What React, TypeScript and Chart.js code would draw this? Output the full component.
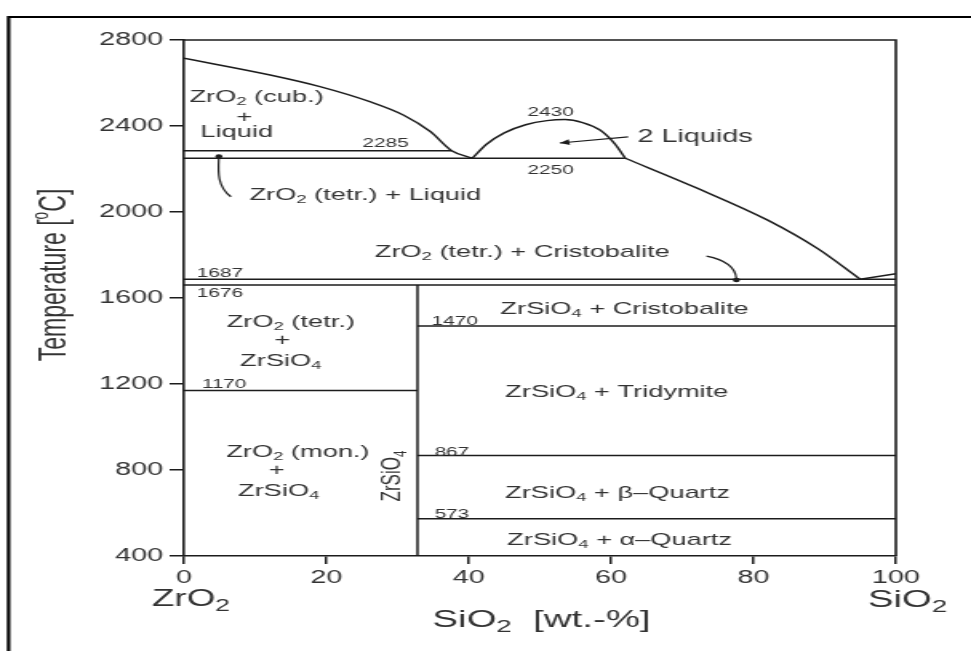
import React, { useEffect, useRef } from 'react';
import { Chart, registerables } from 'chart.js';

Chart.register(...registerables);

// ---------- data ----------
const xTicks = [0, 20, 40, 60, 80, 100];
const tempTicks = [400, 800, 1200, 1600, 2000, 2400, 2800];

// liquidus on the ZrO2 side (wt.-% SiO2, °C)
const liqZrO2X = [0, 12.1, 19.1, 26.1, 30.8, 34.6, 37.6, 40.5];
const liqZrO2T = [2715, 2637, 2583, 2513, 2451, 2374, 2285, 2250];

// miscibility gap (2 liquids)
const gapX = [40.5, 42.5, 45, 48, 51, 53.5, 56, 58.5, 60.5, 62];
const gapT = [2250, 2315, 2368, 2406, 2425, 2430, 2416, 2380, 2318, 2250];

// liquidus towards SiO2
const liqRightX = [62, 72, 82, 89, 95];
const liqRightT = [2250, 2112, 1962, 1830, 1687];

// liquidus of SiO2 above eutectic
const liqSiO2X = [95, 100];
const liqSiO2T = [1687, 1713];

// isotherms
const isoT = [2285, 2250, 1687, 1660, 1470, 1170, 867, 573];
const isoFrom = [0, 0, 0, 0, 32.8, 0, 32.8, 32.8];
const isoTo = [37.6, 62, 100, 100, 100, 32.8, 100, 100];

// ZrSiO4 compound line
const zirconX = 32.8;
const zirconT = [400, 1660];

// ---------- styling / layout ----------
const STRETCH = 1.6;
const W = 971;
const H = 651;
const IW = Math.round(W / STRETCH);
const FONT = '"Liberation Sans", Arial, Helvetica, sans-serif';
const INK = '#1c1c1c';
const TXT = '#333333';

type Seg = { t: string; mode: number };
function parseRich(s: string): Seg[] {
  const out: Seg[] = [];
  let buf = '';
  for (let i = 0; i < s.length; i++) {
    const c = s[i];
    if ((c === '_' || c === '^') && i + 1 < s.length) {
      if (buf) out.push({ t: buf, mode: 0 });
      buf = '';
      out.push({ t: s[i + 1], mode: c === '_' ? 1 : 2 });
      i++;
    } else buf += c;
  }
  if (buf) out.push({ t: buf, mode: 0 });
  return out;
}

function drawRich(ctx: CanvasRenderingContext2D, s: string, x: number, y: number, size: number, align = 'center', subScale = 0.68) {
  const segs = parseRich(s);
  const small = size * subScale;
  const fontOf = (m: number) => `${m ? small : size}px ${FONT}`;
  let total = 0;
  const widths = segs.map((g) => {
    ctx.font = fontOf(g.mode);
    const w = ctx.measureText(g.t).width;
    total += w;
    return w;
  });
  let cx = align === 'left' ? x : align === 'right' ? x - total : x - total / 2;
  ctx.textBaseline = 'middle';
  ctx.textAlign = 'left';
  segs.forEach((g, i) => {
    ctx.font = fontOf(g.mode);
    const dy = g.mode === 1 ? size * 0.3 : g.mode === 2 ? -size * 0.35 : 0;
    ctx.fillText(g.t, cx, y + dy);
    cx += widths[i];
  });
}

const fieldLabels = [
  { text: 'ZrO_2 (cub.)', x: 10.2, t: 2535, size: 17, align: 'center' },
  { text: '+', x: 8.5, t: 2442, size: 17, align: 'center' },
  { text: 'Liquid', x: 7.4, t: 2372, size: 17, align: 'center' },
  { text: '2285', x: 28.3, t: 2321, size: 13, align: 'center' },
  { text: 'ZrO_2 (tetr.) + Liquid', x: 9.2, t: 2079, size: 17, align: 'left' },
  { text: '2430', x: 51.5, t: 2465, size: 13, align: 'center' },
  { text: '2 Liquids', x: 71.8, t: 2349, size: 18, align: 'center' },
  { text: '2250', x: 51.5, t: 2195, size: 13, align: 'center' },
  { text: 'ZrO_2 (tetr.) + Cristobalite', x: 26.8, t: 1814, size: 17, align: 'left' },
  { text: '1687', x: 1.8, t: 1716, size: 13, align: 'left' },
  { text: '1676', x: 1.8, t: 1619, size: 13, align: 'left' },
  { text: 'ZrO_2 (tetr.)', x: 15.0, t: 1488, size: 17, align: 'center' },
  { text: '+', x: 13.8, t: 1405, size: 17, align: 'center' },
  { text: 'ZrSiO_4', x: 13.6, t: 1307, size: 17, align: 'center' },
  { text: '1170', x: 2.5, t: 1200, size: 13, align: 'left' },
  { text: '1470', x: 34.8, t: 1493, size: 13, align: 'left' },
  { text: 'ZrSiO_4 + Cristobalite', x: 61.9, t: 1549, size: 17, align: 'center' },
  { text: 'ZrSiO_4 + Tridymite', x: 60.8, t: 1163, size: 17, align: 'center' },
  { text: 'ZrO_2 (mon.)', x: 16.0, t: 884, size: 17, align: 'center' },
  { text: '+', x: 13.0, t: 800, size: 17, align: 'center' },
  { text: 'ZrSiO_4', x: 13.3, t: 702, size: 17, align: 'center' },
  { text: '867', x: 35.2, t: 884, size: 13, align: 'left' },
  { text: 'ZrSiO_4 + β–Quartz', x: 60.9, t: 693, size: 17, align: 'center' },
  { text: '573', x: 35.2, t: 595, size: 13, align: 'left' },
  { text: 'ZrSiO_4 + α–Quartz', x: 61.2, t: 475, size: 17, align: 'center' },
];

const annotPlugin = {
  id: 'phaseAnnot',
  afterDraw(chart: any) {
    const { ctx, chartArea: a, scales } = chart;
    const px = (v: number) => scales.x.getPixelForValue(v);
    const py = (v: number) => scales.y.getPixelForValue(v);
    ctx.save();

    // outer frame (top + left)
    ctx.strokeStyle = '#000';
    ctx.lineWidth = 2.2;
    ctx.beginPath();
    ctx.moveTo(5.4, H + 5);
    ctx.lineTo(5.4, 17);
    ctx.lineTo(IW + 5, 17);
    ctx.stroke();

    // plot box top and right
    ctx.strokeStyle = INK;
    ctx.lineWidth = 1.6;
    ctx.beginPath();
    ctx.moveTo(a.left, a.top);
    ctx.lineTo(a.right, a.top);
    ctx.lineTo(a.right, a.bottom);
    ctx.stroke();

    // field labels
    ctx.fillStyle = TXT;
    fieldLabels.forEach((l) => drawRich(ctx, l.text, px(l.x), py(l.t), l.size, l.align));

    // vertical ZrSiO4
    ctx.save();
    ctx.translate(px(29.3), py(772));
    ctx.rotate(-Math.PI / 2);
    drawRich(ctx, 'ZrSiO_4', 0, 0, 17, 'center');
    ctx.restore();

    // arrows
    ctx.strokeStyle = INK;
    ctx.fillStyle = INK;
    ctx.lineWidth = 1.2;
    // ZrO2 (tetr.) + Liquid
    ctx.beginPath();
    ctx.moveTo(px(6.6), py(2071));
    ctx.bezierCurveTo(px(4.6), py(2118), px(4.8), py(2193), px(4.9), py(2254));
    ctx.stroke();
    ctx.beginPath();
    ctx.arc(px(4.9), py(2258), 2.2, 0, Math.PI * 2);
    ctx.fill();
    // Cristobalite
    ctx.beginPath();
    ctx.moveTo(px(73.4), py(1795));
    ctx.bezierCurveTo(px(76.5), py(1775), px(77.5), py(1730), px(77.6), py(1690));
    ctx.stroke();
    ctx.beginPath();
    ctx.arc(px(77.6), py(1684), 2.2, 0, Math.PI * 2);
    ctx.fill();
    // 2 Liquids
    const ax0 = px(62.4), ay0 = py(2349), ax1 = px(52.8), ay1 = py(2321);
    ctx.beginPath();
    ctx.moveTo(ax0, ay0);
    ctx.lineTo(ax1, ay1);
    ctx.stroke();
    const ang = Math.atan2(ay1 - ay0, ax1 - ax0);
    ctx.beginPath();
    ctx.moveTo(ax1, ay1);
    ctx.lineTo(ax1 - 6 * Math.cos(ang) - 3 * Math.sin(ang), ay1 - 6 * Math.sin(ang) + 3 * Math.cos(ang));
    ctx.lineTo(ax1 - 6 * Math.cos(ang) + 3 * Math.sin(ang), ay1 - 6 * Math.sin(ang) - 3 * Math.cos(ang));
    ctx.closePath();
    ctx.fill();

    // axis titles and end-member labels
    ctx.fillStyle = TXT;
    ctx.save();
    ctx.translate(34.4, 275);
    ctx.rotate(-Math.PI / 2);
    drawRich(ctx, 'Temperature [^oC]', 0, 0, 23, 'center', 0.6);
    ctx.restore();
    drawRich(ctx, 'SiO_2  [wt.-%]', (a.left + a.right) / 2 + 1, 620, 24, 'center', 0.72);
    drawRich(ctx, 'ZrO_2', a.left - 20, 600, 23, 'left', 0.72);
    drawRich(ctx, 'SiO_2', a.right - 17.5, 600, 24, 'left', 0.72);

    ctx.restore();
  },
};

function line(xs: number[], ts: number[], curved: boolean) {
  return {
    data: xs.map((x, i) => ({ x, y: ts[i] })),
    showLine: true,
    borderColor: INK,
    borderWidth: 1.5,
    pointRadius: 0,
    fill: false,
    cubicInterpolationMode: curved ? 'monotone' : 'default',
    tension: 0,
  };
}

export default function App() {
  const ref = useRef<HTMLCanvasElement | null>(null);
  useEffect(() => {
    const canvas = ref.current;
    if (!canvas) return;
    const datasets: any[] = [
      line(liqZrO2X, liqZrO2T, true),
      line(gapX, gapT, true),
      line(liqRightX, liqRightT, true),
      line(liqSiO2X, liqSiO2T, false),
      line([zirconX, zirconX], zirconT, false),
      ...isoT.map((t, i) => line([isoFrom[i], isoTo[i]], [t, t], false)),
    ];
    const tickFont = { family: FONT, size: 18 };
    const chart = new Chart(canvas, {
      type: 'scatter',
      data: { datasets },
      options: {
        animation: false,
        responsive: false,
        devicePixelRatio: 1,
        layout: { padding: { top: 40, right: IW - 560, left: 0, bottom: 0 } },
        plugins: { legend: { display: false }, tooltip: { enabled: false } },
        scales: {
          x: {
            type: 'linear',
            min: 0,
            max: 100,
            afterBuildTicks: (s: any) => { s.ticks = xTicks.map((v) => ({ value: v })); },
            afterFit: (s: any) => { s.height = H - 556; },
            ticks: { font: tickFont, color: TXT, padding: 3, maxRotation: 0, callback: (v: any) => String(v) },
            grid: { drawOnChartArea: false, drawTicks: true, tickLength: 8, color: INK, lineWidth: 1.5 },
            border: { display: true, color: INK, width: 1.6 },
          },
          y: {
            type: 'linear',
            min: 400,
            max: 2800,
            afterBuildTicks: (s: any) => { s.ticks = tempTicks.map((v) => ({ value: v })); },
            afterFit: (s: any) => { s.width = 115; },
            ticks: { font: tickFont, color: TXT, padding: 4, callback: (v: any) => String(v) },
            grid: { drawOnChartArea: false, drawTicks: true, tickLength: 9, color: INK, lineWidth: 1.5 },
            border: { display: true, color: INK, width: 1.6 },
          },
        },
      } as any,
      plugins: [annotPlugin],
    });
    return () => chart.destroy();
  }, []);
  return (
    <div style={{ position: 'absolute', left: 0, top: 0, width: W, height: H, background: '#fff', overflow: 'hidden' }}>
      <canvas ref={ref} width={IW} height={H} style={{ width: `${W}px`, height: `${H}px`, display: 'block' }} />
    </div>
  );
}
